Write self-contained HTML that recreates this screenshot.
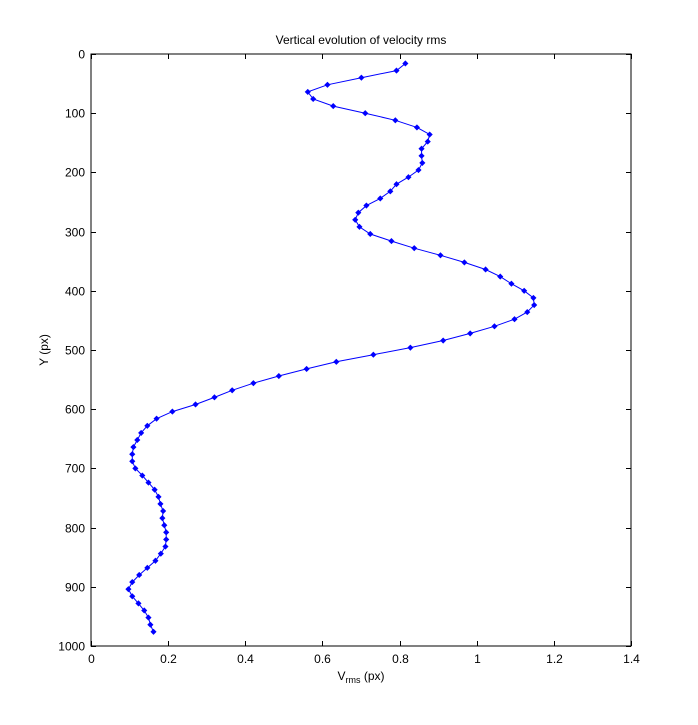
<!DOCTYPE html>
<html><head><meta charset="utf-8"><style>
body{margin:0;background:#fff;}
svg{display:block;font-family:"Liberation Sans",Arial,sans-serif;}
</style></head><body>
<svg id="chart" width="698" height="725">
<rect x="0" y="0" width="698" height="725" fill="#fff"/>
<text x="361" y="44" font-size="12" text-anchor="middle">Vertical evolution of velocity rms</text>
<text transform="translate(48,350) rotate(-90)" font-size="12" text-anchor="middle">Y (px)</text>
<text x="361" y="680" font-size="12" text-anchor="middle">V<tspan font-size="9" dy="3">rms</tspan><tspan dy="-3"> (px)</tspan></text>
<g id="axes"></g>
<g id="series"></g>
</svg>
<script>
const xTicks = [0,0.2,0.4,0.6,0.8,1,1.2,1.4];
const xTickLabels = ["0","0.2","0.4","0.6","0.8","1","1.2","1.4"];
const yTicks = [0,100,200,300,400,500,600,700,800,900,1000];
const yTickLabels = ["0","100","200","300","400","500","600","700","800","900","1000"];
const vrms = [0.815,0.792,0.701,0.613,0.562,0.576,0.628,0.711,0.789,0.845,0.878,0.873,0.857,0.857,0.859,0.849,0.823,0.792,0.776,0.750,0.714,0.693,0.685,0.696,0.724,0.779,0.838,0.906,0.968,
1.023,1.061,1.090,1.123,1.147,
1.149,1.131,1.098,1.046,0.983,0.913,0.828,0.732,0.636,
0.559,0.487,0.421,0.366,0.320,0.271,0.211,0.170,0.146,0.130,0.120,0.110,0.107,0.107,0.115,0.133,0.149,0.165,0.175,0.180,0.187,0.185,0.190,0.195,0.195,
0.193,0.181,0.167,0.146,0.125,0.107,0.097,0.107,0.123,0.138,0.149,0.154,0.162];
const ypos = [16,28,40,52,64,76,88,100,112,124,136,148,160,172,184,196,208,220,232,244,256,268,280,292,304,316,328,340,352,364,376,388,400,412,424,436,448,460,472,484,496,508,520,532,544,556,568,580,592,604,616,628,640,652,664,676,688,700,712,724,736,748,760,772,784,796,808,820,832,844,856,868,880,892,904,916,928,940,952,964,976];

const L=91,R=631,T=54,B=646;
const xs = v => L + (v-0)/(1.4-0)*(R-L);
const ys = v => T + (v-0)/(1000-0)*(B-T);
const NS="http://www.w3.org/2000/svg";
const axes=document.getElementById('axes');
const series=document.getElementById('series');
function mk(tag,attrs,parent){const e=document.createElementNS(NS,tag);for(const k in attrs)e.setAttribute(k,attrs[k]);parent.appendChild(e);return e;}

const frame=mk('rect',{x:L,y:T,width:R-L,height:B-T,fill:'none',stroke:'#000','stroke-width':1},axes);



xTicks.forEach((t,i)=>{
  const x=Math.round(xs(t))+0.5;
  const a=mk('line',{x1:x,y1:B,x2:x,y2:B-5,stroke:'#000'},axes);
  
  
  const b=mk('line',{x1:x,y1:T,x2:x,y2:T+5,stroke:'#000'},axes);
  
  
  const tx=mk('text',{x:x,y:B+17,'font-size':12,'text-anchor':'middle'},axes);
  tx.textContent=xTickLabels[i];
  
  
});
yTicks.forEach((t,i)=>{
  const y=Math.round(ys(t))+0.5;
  const a=mk('line',{x1:L,y1:y,x2:L+5,y2:y,stroke:'#000'},axes);
  
  
  const b=mk('line',{x1:R,y1:y,x2:R-5,y2:y,stroke:'#000'},axes);
  
  
  const tx=mk('text',{x:L-6,y:y+4,'font-size':12,'text-anchor':'end'},axes);
  tx.textContent=yTickLabels[i];
  
  
});

const pts=vrms.map((v,i)=>xs(v).toFixed(1)+','+ys(ypos[i]).toFixed(1)).join(' ');
const line=mk('polyline',{points:pts,fill:'none',stroke:'#0000ff','stroke-width':1},series);


vrms.forEach((v,i)=>{
  const cx=xs(v),cy=ys(ypos[i]);
  const m=mk('path',{d:`M${cx-2.5},${cy}L${cx},${cy-2.5}L${cx+2.5},${cy}L${cx},${cy+2.5}Z`,fill:'#0000ff',stroke:'#0000ff','stroke-width':0.8},series);
  
  
});
</script>
</body></html>
